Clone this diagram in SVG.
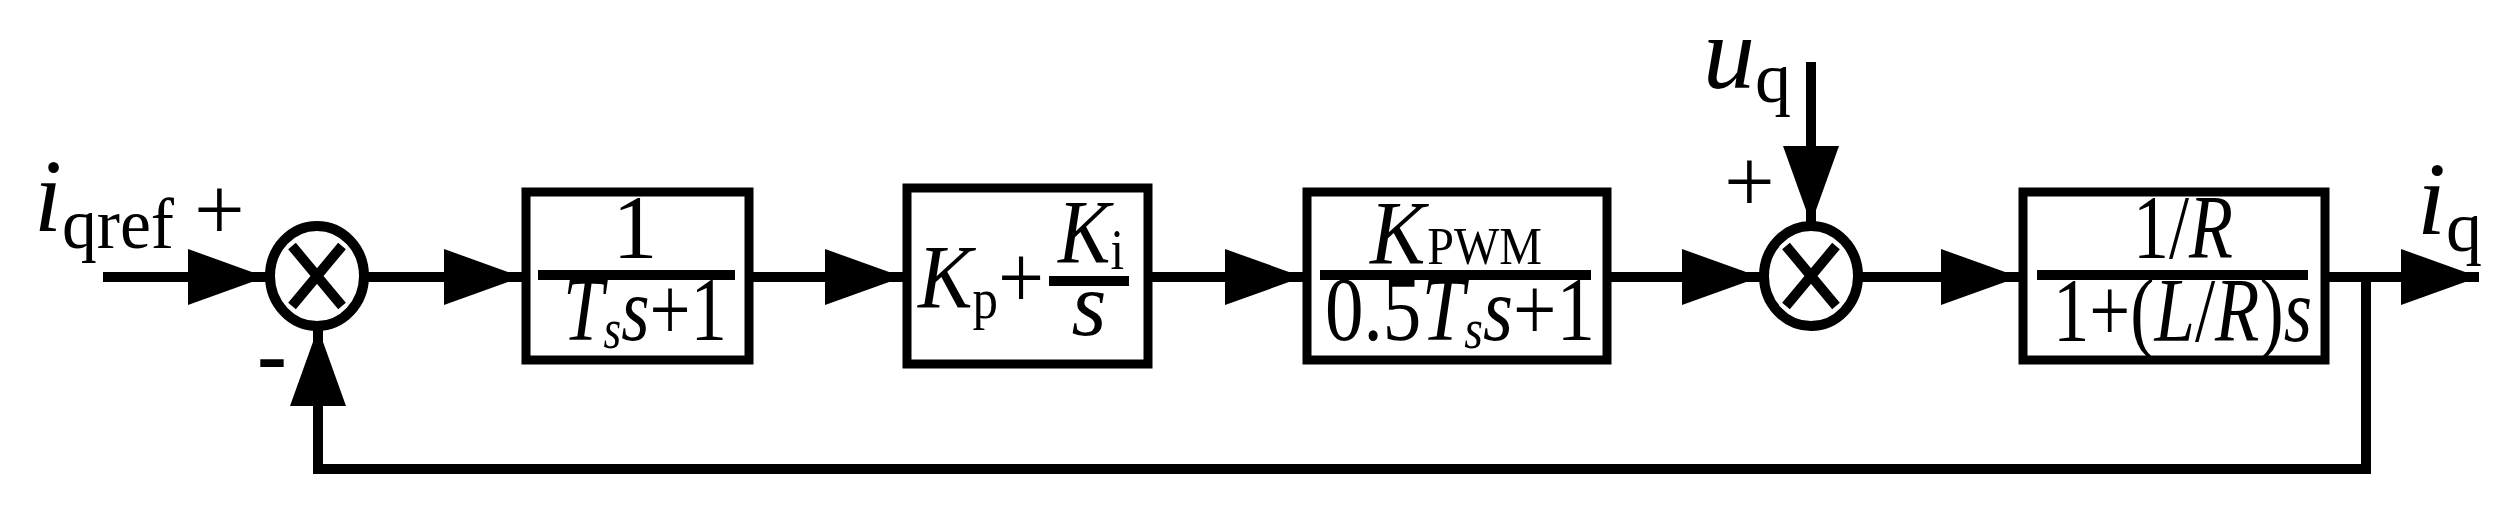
<svg xmlns="http://www.w3.org/2000/svg" width="2517" height="525" viewBox="0 0 2517 525">
<style>
.ln{stroke:#000;stroke-width:10;fill:none}
.bx{stroke:#000;stroke-width:9;fill:#fff}
.t{font-family:"Liberation Serif","Times New Roman","DejaVu Serif",serif;fill:#000}
.i{font-style:italic}
</style>
<defs>
<marker id="ar" markerUnits="userSpaceOnUse" markerWidth="80" markerHeight="56" refX="78" refY="28" orient="auto"><path d="M0,0 L78,28 L0,56 Z" fill="#000"/></marker>
</defs>
<g id="connectors">
<line class="ln" x1="103" y1="277" x2="266" y2="277" marker-end="url(#ar)"/>
<line class="ln" x1="366" y1="277" x2="522" y2="277" marker-end="url(#ar)"/>
<line class="ln" x1="753" y1="277" x2="903" y2="277" marker-end="url(#ar)"/>
<line class="ln" x1="1152" y1="277" x2="1303" y2="277" marker-end="url(#ar)"/>
<line class="ln" x1="1611" y1="277" x2="1760" y2="277" marker-end="url(#ar)"/>
<line class="ln" x1="1861" y1="277" x2="2019" y2="277" marker-end="url(#ar)"/>
<line class="ln" x1="2329" y1="277" x2="2479" y2="277" marker-end="url(#ar)"/>
<line class="ln" x1="1811" y1="62" x2="1811" y2="224" marker-end="url(#ar)"/>
<polyline class="ln" points="2366,277 2366,469 318,469 318,328" marker-end="url(#ar)"/>
</g>
<g id="sum1"><ellipse class="ln" cx="317" cy="276" rx="47" ry="50"/><path class="ln" stroke-width="7" d="M292,246 L342,306 M342,246 L292,306"/></g>
<g id="sum2"><ellipse class="ln" cx="1811" cy="276" rx="47" ry="50"/><path class="ln" stroke-width="7" d="M1786,246 L1836,306 M1836,246 L1786,306"/></g>
<g id="box1"><rect class="bx" x="526" y="192" width="223" height="168"/>
<line class="ln" stroke-width="8" x1="538" y1="275" x2="735" y2="275"/>
<text class="t" x="635" y="258" font-size="90" text-anchor="middle">1</text>
<text class="t" x="563" y="340" font-size="90" textLength="164" lengthAdjust="spacingAndGlyphs"><tspan class="i">T</tspan><tspan class="i" font-size="56" dy="8">s</tspan><tspan class="i" dy="-8">s</tspan>+1</text></g>
<g id="box2"><rect class="bx" x="907" y="188" width="241" height="176"/>
<text class="t" x="918" y="308" font-size="90" textLength="126" lengthAdjust="spacingAndGlyphs"><tspan class="i">K</tspan><tspan font-size="56" dy="10">p</tspan><tspan dy="-10">+</tspan></text>
<line class="ln" stroke-width="8" x1="1049" y1="281" x2="1129" y2="281"/>
<text class="t" x="1058" y="263" font-size="90" textLength="66" lengthAdjust="spacingAndGlyphs"><tspan class="i">K</tspan><tspan font-size="56" dy="6">i</tspan></text>
<text class="t i" x="1089" y="335" font-size="90" text-anchor="middle">s</text></g>
<g id="box3"><rect class="bx" x="1307" y="192" width="300" height="168"/>
<line class="ln" stroke-width="8" x1="1320" y1="275" x2="1591" y2="275"/>
<text class="t" x="1370" y="264" font-size="90" textLength="172" lengthAdjust="spacingAndGlyphs"><tspan class="i">K</tspan><tspan font-size="52" dx="2">PWM</tspan></text>
<text class="t" x="1325" y="340" font-size="90" textLength="270" lengthAdjust="spacingAndGlyphs">0.5<tspan class="i">T</tspan><tspan class="i" font-size="56" dy="8">s</tspan><tspan class="i" dy="-8">s</tspan>+1</text></g>
<g id="box4"><rect class="bx" x="2023" y="192" width="302" height="168"/>
<line class="ln" stroke-width="8" x1="2037" y1="275" x2="2308" y2="275"/>
<text class="t" x="2133" y="258" font-size="90" textLength="100" lengthAdjust="spacingAndGlyphs">1/<tspan class="i">R</tspan></text>
<text class="t" x="2053" y="341" font-size="90" textLength="259" lengthAdjust="spacingAndGlyphs">1+(<tspan class="i">L</tspan>/<tspan class="i">R</tspan>)<tspan class="i">s</tspan></text></g>
<g id="labels">
<text class="t" x="34" y="231" font-size="104" textLength="140" lengthAdjust="spacingAndGlyphs"><tspan class="i">i</tspan><tspan font-size="72" dy="17">qref</tspan></text>
<text class="t" x="194" y="240" font-size="90">+</text>
<text class="t" x="257" y="385" font-size="90" font-weight="bold">-</text>
<text class="t" x="1703" y="88" font-size="104"><tspan class="i">u</tspan><tspan font-size="72" dy="14">q</tspan></text>
<text class="t" x="1724" y="212" font-size="90">+</text>
<text class="t" x="2417" y="234" font-size="104"><tspan class="i">i</tspan><tspan font-size="72" dy="17">q</tspan></text>
</g>
</svg>
